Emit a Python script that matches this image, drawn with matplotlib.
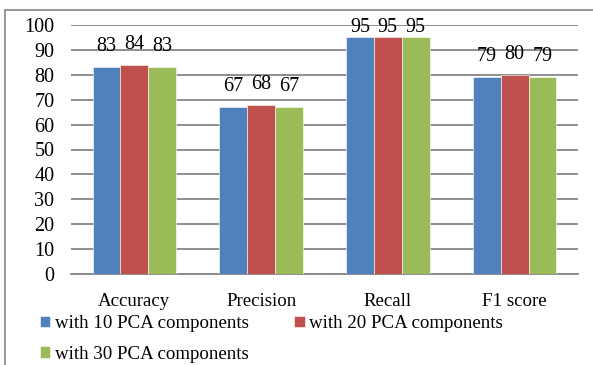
import numpy as np
import matplotlib
matplotlib.use('Agg')
import matplotlib.pyplot as plt
from matplotlib.patches import Rectangle

plt.rcParams['font.family'] = ['Liberation Serif', 'DejaVu Serif']

categories = ['Accuracy', 'Precision', 'Recall', 'F1 score']
series_names = ['with 10 PCA components', 'with 20 PCA components', 'with 30 PCA components']
pca10 = [83, 67, 95, 79]
pca20 = [84, 68, 95, 80]
pca30 = [83, 67, 95, 79]
colors = ['#4F81BD', '#C0504D', '#9BBB59']


def main():
    fig = plt.figure(figsize=(5.93, 3.65), dpi=100)
    ax = fig.add_axes([71 / 593, 1 - 274 / 365, 507 / 593, 249 / 365])

    x = np.arange(len(categories))
    width = 0.22
    fs_num = 14.5
    fs_txt = 13.6
    handles = []
    for i, (vals, name) in enumerate(zip([pca10, pca20, pca30], series_names)):
        bars = ax.bar(x + (i - 1) * width, vals, width, color=colors[i],
                      edgecolor='white', linewidth=0.4, label=name, zorder=3)
        handles.append(bars)
        for xi, v in zip(x + (i - 1) * width, vals):
            # labels sit above the bar, but get squeezed under the top near 100
            ax.text(xi, min(v + 6.4, 97.3), str(v), ha='center', va='baseline',
                    fontsize=fs_num)

    ax.set_xlim(-0.5, len(categories) - 0.5)
    ax.set_ylim(0, 100)
    ax.set_yticks(range(0, 101, 10))
    ax.yaxis.grid(True, color='#868686', linewidth=1.3, zorder=0)
    ax.set_axisbelow(True)
    for s in ['top', 'right', 'left']:
        ax.spines[s].set_visible(False)
    ax.spines['bottom'].set_color('#868686')
    ax.spines['bottom'].set_linewidth(1.3)
    ax.tick_params(axis='y', length=0, labelsize=fs_num, pad=12)
    ax.tick_params(axis='x', length=0, labelsize=fs_txt, pad=14)
    ax.set_xticks(x)
    ax.set_xticklabels(categories)

    # legend fills column-wise, so reorder to get 10, 20 on the first row
    order = [0, 2, 1]
    fig.legend(handles=[handles[k] for k in order],
               labels=[series_names[k] for k in order], loc='upper left',
               bbox_to_anchor=(40 / 593, 1 - 315 / 365), ncol=2, frameon=False,
               fontsize=fs_txt, handlelength=0.55, handleheight=0.55,
               handletextpad=0.25, columnspacing=2.4, labelspacing=0.72,
               borderpad=0, borderaxespad=0)

    fig.patches.append(Rectangle((5 / 593, -0.1), 1.2, 1 - 10 / 365 + 0.1,
                                 transform=fig.transFigure, fill=False,
                                 edgecolor='#868686', linewidth=1.2))

    fig.savefig('out.png', dpi=100)


if __name__ == '__main__':
    main()
